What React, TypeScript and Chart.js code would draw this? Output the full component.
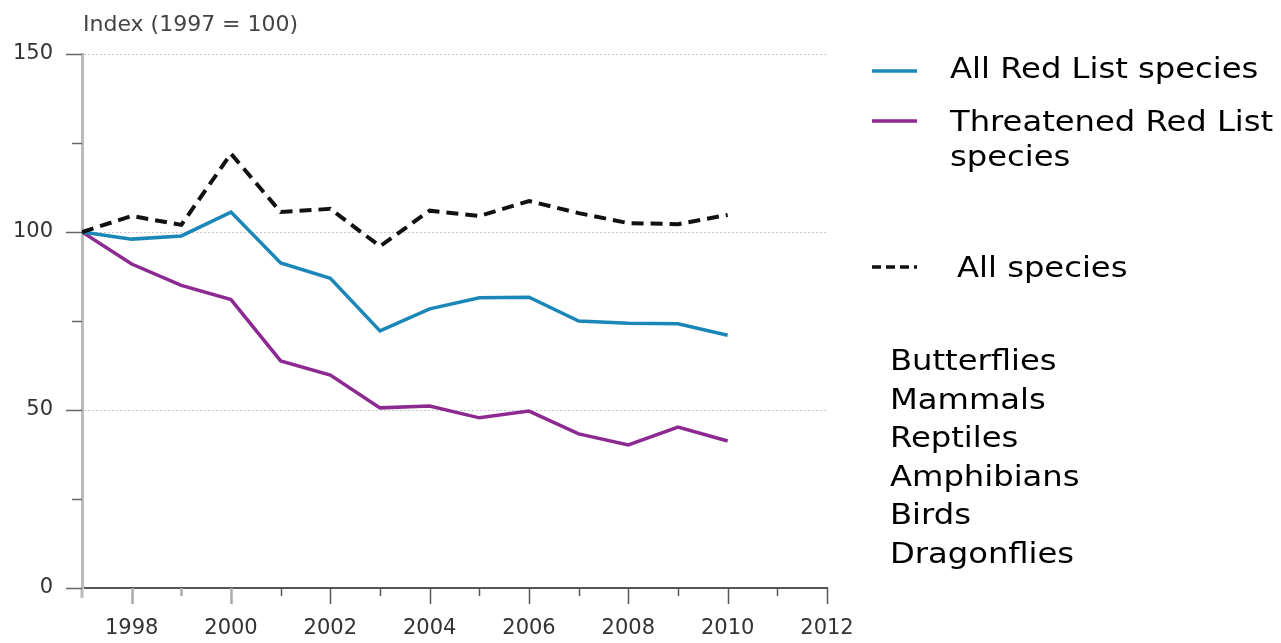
import React, { useEffect, useRef } from "react";
import { Chart, registerables } from "chart.js";

Chart.register(...registerables);

const years = [1997, 1998, 1999, 2000, 2001, 2002, 2003, 2004, 2005, 2006, 2007, 2008, 2009, 2010];
const allRedList = [100, 98, 98.9, 105.6, 91.3, 87, 72.2, 78.4, 81.5, 81.7, 75, 74.4, 74.2, 71];
const threatened = [100, 91, 85, 81, 63.8, 59.8, 50.6, 51.1, 47.8, 49.7, 43.3, 40.2, 45.2, 41.3];
const allSpecies = [100, 104.5, 102, 122, 105.6, 106.5, 96, 106, 104.5, 108.7, 105.3, 102.5, 102.2, 104.8];

const seriesNames = ["All Red List species", "Threatened Red List", "species", "All species"];
const speciesGroups = ["Butterflies", "Mammals", "Reptiles", "Amphibians", "Birds", "Dragonflies"];
const yTicks = [0, 25, 50, 75, 100, 125, 150];
const xMin = 1997;
const xMax = 2012;
const axisTitle = "Index (1997 = 100)";

const BLUE = "#1b87b8";
const PURPLE = "#8d2a92";
const BLACK = "#111111";
const AXIS_FONT = "'DejaVu Sans', sans-serif";
const LEGEND_FONT = "'DejaVu Sans', Verdana, sans-serif";

const overlay = {
  id: "overlay",
  afterDraw(chart: any) {
    const ctx = chart.ctx;
    const x = chart.scales.x;
    const y = chart.scales.y;
    const ax = x.getPixelForValue(xMin);
    const ay = y.getPixelForValue(0);
    ctx.save();
    // y axis extension below x axis
    ctx.strokeStyle = "#bbb";
    ctx.lineWidth = 3;
    ctx.beginPath();
    ctx.moveTo(ax, ay);
    ctx.lineTo(ax, ay + 10);
    ctx.stroke();
    // y ticks
    ctx.strokeStyle = "#666";
    ctx.lineWidth = 1.5;
    for (const v of yTicks) {
      const py = Math.round(y.getPixelForValue(v)) + 0.5;
      const len = v % 50 === 0 ? 16 : 10;
      ctx.beginPath();
      ctx.moveTo(ax - len, py);
      ctx.lineTo(ax, py);
      ctx.stroke();
    }
    // x ticks
    for (let yr = xMin + 1; yr <= xMax; yr++) {
      const px = Math.round(x.getPixelForValue(yr)) + 0.5;
      const len = yr % 2 === 0 ? 16 : 8;
      const light = yr <= 2000;
      ctx.strokeStyle = light ? "#aaa" : "#555";
      ctx.lineWidth = light ? 2.5 : 1.5;
      ctx.beginPath();
      ctx.moveTo(px, ay);
      ctx.lineTo(px, ay + len);
      ctx.stroke();
    }
    // axis title
    ctx.fillStyle = "#444";
    ctx.font = `22px ${AXIS_FONT}`;
    ctx.textBaseline = "middle";
    ctx.textAlign = "left";
    ctx.fillText(axisTitle, ax + 1, 25);

    // legend
    const drawSample = (yy: number, color: string, dash: number[]) => {
      ctx.save();
      ctx.strokeStyle = color;
      ctx.lineWidth = 3.5;
      ctx.setLineDash(dash);
      ctx.beginPath();
      ctx.moveTo(872, yy);
      ctx.lineTo(917, yy);
      ctx.stroke();
      ctx.restore();
    };
    const drawText = (t: string, tx: number, ty: number) => {
      ctx.save();
      ctx.translate(tx, ty);
      ctx.scale(1.15, 1);
      ctx.font = `28px ${LEGEND_FONT}`;
      ctx.fillStyle = "#000";
      ctx.textBaseline = "alphabetic";
      ctx.textAlign = "left";
      ctx.fillText(t, 0, 0);
      ctx.restore();
    };
    drawSample(71, BLUE, []);
    drawText(seriesNames[0], 950, 78);
    drawSample(121, PURPLE, []);
    drawText(seriesNames[1], 950, 131);
    drawText(seriesNames[2], 950, 166);
    drawSample(267, BLACK, [9, 5]);
    drawText(seriesNames[3], 957, 277);
    speciesGroups.forEach((s, i) => {
      drawText(s, 890, 370 + i * 38.5);
    });
    ctx.restore();
  },
};

export default function App() {
  const ref = useRef<HTMLCanvasElement>(null);
  useEffect(() => {
    if (!ref.current) return;
    const mk = (d: number[]) => d.map((v, i) => ({ x: years[i], y: v }));
    const chart = new Chart(ref.current, {
      type: "line",
      data: {
        datasets: [
          { label: "All species", data: mk(allSpecies), borderColor: BLACK, borderWidth: 4, borderDash: [12, 7], pointRadius: 0, tension: 0 },
          { label: "All Red List species", data: mk(allRedList), borderColor: BLUE, borderWidth: 3.5, pointRadius: 0, tension: 0 },
          { label: "Threatened Red List species", data: mk(threatened), borderColor: PURPLE, borderWidth: 3.5, pointRadius: 0, tension: 0 },
        ],
      },
      options: {
        animation: false,
        responsive: true,
        maintainAspectRatio: false,
        layout: { padding: { left: 0, right: 454, top: 54, bottom: 0 } },
        plugins: { legend: { display: false }, tooltip: { enabled: false } },
        scales: {
          x: {
            type: "linear",
            min: xMin,
            max: xMax,
            ticks: {
              stepSize: 1,
              autoSkip: false,
              maxRotation: 0,
              padding: 28,
              color: "#333",
              font: { family: AXIS_FONT, size: 21 },
              callback: (v: any) => (Number(v) % 2 === 0 ? String(v) : ""),
            },
            grid: { display: false, drawTicks: false },
            border: { color: "#555", width: 2 },
            afterFit: (s: any) => { s.height = 55; },
          },
          y: {
            min: 0,
            max: 150,
            ticks: {
              stepSize: 25,
              padding: 29,
              color: "#333",
              font: { family: AXIS_FONT, size: 21 },
              callback: (v: any) => (Number(v) % 50 === 0 ? String(v) : ""),
            },
            grid: {
              drawTicks: false,
              color: (c: any) => (c.tick && c.tick.value % 50 === 0 && c.tick.value > 0 ? "#c8c8c8" : "transparent"),
              lineWidth: 1,
            },
            border: { color: "#bbb", width: 3, dash: [2, 2] },
            afterFit: (s: any) => { s.width = 82; },
          },
        },
      },
      plugins: [overlay],
    });
    return () => chart.destroy();
  }, []);
  return (
    <div style={{ position: "absolute", left: 0, top: 0, width: 1281, height: 643, background: "#fff" }}>
      <canvas ref={ref} />
    </div>
  );
}
